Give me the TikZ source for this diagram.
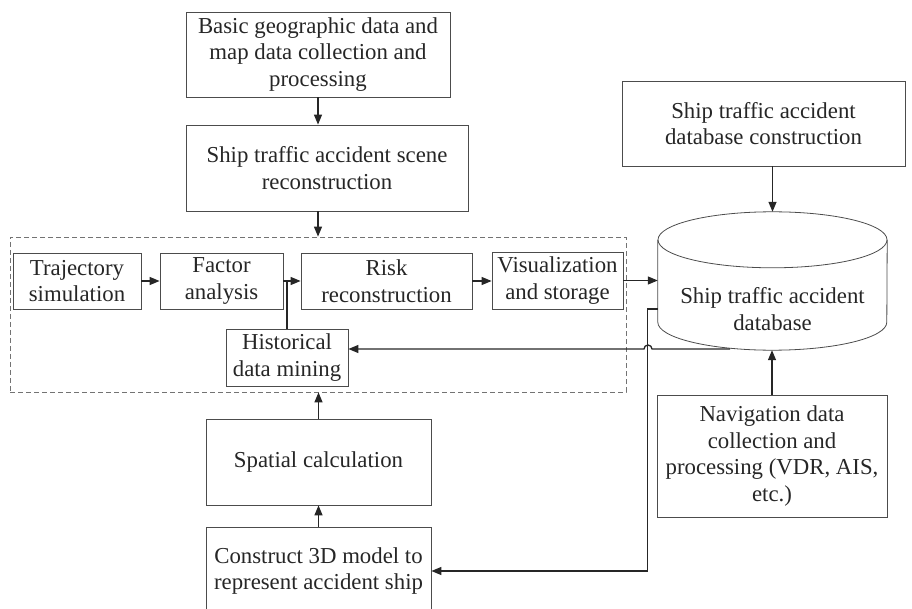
\documentclass[tikz,border=0pt]{standalone}
\usepackage{fontspec}
\setmainfont{Liberation Serif}
\usetikzlibrary{calc,arrows.meta}

\begin{document}
\begin{tikzpicture}[
  x=1pt, y=-1pt,
  every node/.style={font=\fontsize{22.8}{26.5}\selectfont, align=center, inner sep=0pt, text=black!85},
  box/.style={draw=black!70, line width=0.8pt},
  frame/.style={draw=black!55, line width=0.8pt, dash pattern=on 5pt off 3pt},
  link/.style={draw=black!85, line width=1.3pt},
  arr/.style={link, -{Triangle[length=10pt,width=8pt]}}
]
\clip (0,0) rectangle (912,609);
\node[frame, minimum width=616pt, minimum height=155pt] (group) at (318,314.5) {};
\node[box, minimum width=264pt, minimum height=85pt] (basic) at (318,54.5) {Basic geographic data and\\map data collection and\\processing};
\node[box, minimum width=282pt, minimum height=86pt] (scene) at (327,168) {Ship traffic accident scene\\reconstruction};
\node[box, minimum width=128pt, minimum height=56pt] (traj) at (77,281) {Trajectory\\simulation};
\node[box, minimum width=123pt, minimum height=56pt] (factor) at (221.5,281) {Factor\\analysis};
\node[box, minimum width=171pt, minimum height=56pt] (risk) at (386.5,281) {Risk\\reconstruction};
\node[box, minimum width=131pt, minimum height=57pt] (visual) at (557.5,280.5) {Visualization\\and storage};
\node[box, minimum width=122pt, minimum height=57pt] (hist) at (287,357.5) {Historical\\data mining};
\node[box, minimum width=225pt, minimum height=86pt] (spatial) at (318.5,462) {Spatial calculation};
\node[box, minimum width=225pt, minimum height=88pt] (construct) at (318.5,571) {Construct 3D model to\\represent accident ship};
\node[box, minimum width=283pt, minimum height=85pt] (dbcon) at (763.5,123.5) {Ship traffic accident\\database construction};
\node[box, minimum width=230pt, minimum height=122pt] (nav) at (772,456) {Navigation data\\collection and\\processing (VDR, AIS,\\etc.)};
\node[minimum width=229pt, minimum height=138pt,
  label={[yshift=-28pt]center:{Ship traffic accident\\database}}] (db) at (772.5,281) {};

\draw[box] ([yshift=-28pt]db.north) ellipse [x radius=114.5pt, y radius=28pt];
\draw[box] ([yshift=-28pt]db.north west) -- ([yshift=28pt]db.south west)
  arc [start angle=180, end angle=360, x radius=114.5pt, y radius=28pt] -- ([yshift=-28pt]db.north east);

\draw[arr] (basic.south) -- (basic.south |- scene.north);
\draw[arr] (basic.south |- scene.south) -- (group.north);
\draw[arr] (traj) -- (factor);
\draw[arr] (factor) -- (risk);
\draw[arr] (risk.east) -- (visual.west |- risk.east);
\draw[arr] (visual.east) -- (visual.east -| db.west);
\draw[link] (hist.north) -- (hist.north |- factor.east);
\coordinate (dbout) at (730,349);
\draw[arr] (dbout) -- (652,349) arc [start angle=0, end angle=180, radius=4pt] -- (hist.east |- dbout);
\draw[arr] ([yshift=-28pt]db.west) -- ++(-10,0) |- (construct.east);
\draw[arr] (dbcon.south -| db.north) -- (db.north);
\draw[arr] (nav.north) -- (nav.north |- db.south);
\draw[arr] (spatial.north) -- (spatial.north |- group.south);
\draw[arr] (construct.north) -- (spatial.south);
\end{tikzpicture}
\end{document}
